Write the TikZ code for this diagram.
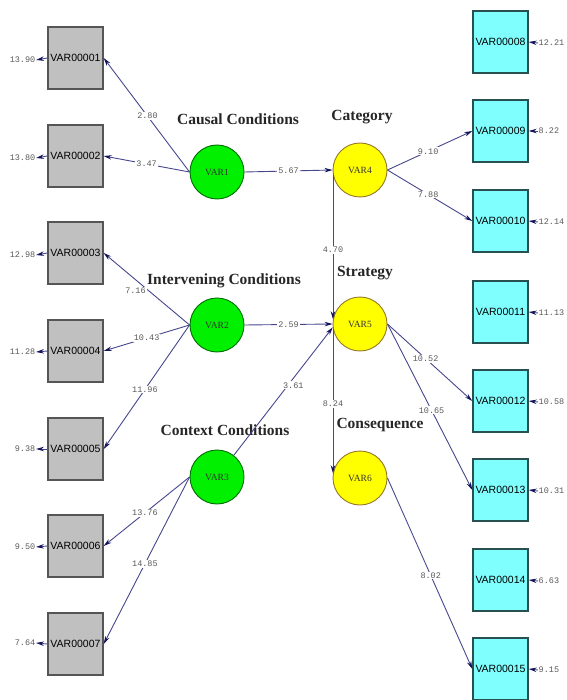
\documentclass[tikz,border=0pt]{standalone}
\usepackage{fontspec}
\setmainfont{Liberation Serif}
\setsansfont{Liberation Sans}
\setmonofont{Liberation Mono}
\usetikzlibrary{arrows.meta}
\definecolor{linec}{RGB}{70,70,140}
\definecolor{headc}{RGB}{20,20,90}
\definecolor{grayfill}{RGB}{192,192,192}
\definecolor{grayline}{RGB}{85,85,85}
\definecolor{cyanfill}{RGB}{128,255,255}
\definecolor{cyanline}{RGB}{40,80,80}
\definecolor{greenfill}{RGB}{0,240,0}
\definecolor{greenline}{RGB}{0,110,0}
\definecolor{yellowfill}{RGB}{255,255,0}
\definecolor{yellowline}{RGB}{150,120,40}
\definecolor{numc}{RGB}{90,90,90}
\tikzset{
  obsl/.style={draw=grayline, line width=1.4pt, fill=grayfill, minimum width=55pt, minimum height=62pt, inner sep=0pt, font=\sffamily\fontsize{10.5}{10.5}\selectfont},
  obsr/.style={obsl, draw=cyanline, fill=cyanfill},
  latg/.style={circle, draw=greenline, line width=0.9pt, fill=greenfill, minimum size=54pt, inner sep=0pt, font=\fontsize{9.5}{9.5}\selectfont, text=black!80},
  laty/.style={latg, draw=yellowline, fill=yellowfill},
  ttl/.style={font=\bfseries\fontsize{15.5}{15.5}\selectfont, text=black!85},
  conn/.style={draw=linec, line width=0.9pt, -{Stealth[length=8pt,width=4.5pt,color=headc]}},
  lbl/.style={font=\ttfamily\fontsize{8.5}{8.5}\selectfont, text=numc, fill=white, inner sep=1pt},
  errn/.style={font=\ttfamily\fontsize{8.5}{8.5}\selectfont, text=numc, inner sep=0.5pt}
}
\begin{document}
\begin{tikzpicture}[x=1pt,y=-1pt]
\useasboundingbox (0,0) rectangle (566,700);
% left observed
\node[obsl] (B1) at (75.5,58) {VAR00001};
\node[obsl] (B2) at (75.5,156) {VAR00002};
\node[obsl] (B3) at (75.5,253) {VAR00003};
\node[obsl] (B4) at (75.5,351) {VAR00004};
\node[obsl] (B5) at (75.5,449) {VAR00005};
\node[obsl] (B6) at (75.5,546) {VAR00006};
\node[obsl] (B7) at (75.5,644) {VAR00007};
% right observed
\node[obsr] (B8) at (500.5,42) {VAR00008};
\node[obsr] (B9) at (500.5,131) {VAR00009};
\node[obsr] (B10) at (500.5,221) {VAR00010};
\node[obsr] (B11) at (500.5,312) {VAR00011};
\node[obsr] (B12) at (500.5,401) {VAR00012};
\node[obsr] (B13) at (500.5,490) {VAR00013};
\node[obsr] (B14) at (500.5,580) {VAR00014};
\node[obsr] (B15) at (500.5,669) {VAR00015};
% latent
\node[latg] (V1) at (217,172) {VAR1};
\node[latg] (V2) at (217,325) {VAR2};
\node[latg] (V3) at (217,477) {VAR3};
\node[laty] (V4) at (360,170) {VAR4};
\node[laty] (V5) at (360,324) {VAR5};
\node[laty] (V6) at (360,478) {VAR6};
% titles
\node[ttl] (T1) at (238,119) {Causal Conditions};
\node[ttl] (T4) at (362,117) {Category};
\node[ttl] (T2) at (224,281) {Intervening Conditions};
\node[ttl] (T5) at (365,273) {Strategy};
\node[ttl] (T3) at (225,430) {Context Conditions};
\node[ttl] (T6) at (380,425) {Consequence};
% error terms left
\node[errn, anchor=east] (E1) at (36,60) {13.90};
\node[errn, anchor=east] (E2) at (36,158) {13.80};
\node[errn, anchor=east] (E3) at (36,255) {12.98};
\node[errn, anchor=east] (E4) at (36,352) {11.28};
\node[errn, anchor=east] (E5) at (36,449) {9.38};
\node[errn, anchor=east] (E6) at (36,547) {9.50};
\node[errn, anchor=east] (E7) at (36,643) {7.64};
\foreach \i in {1,...,7} {\draw[conn] (B\i.west) -- (E\i.east);}
% error terms right
\node[errn, anchor=west] (E8) at (538,43) {12.21};
\node[errn, anchor=west] (E9) at (538,131) {8.22};
\node[errn, anchor=west] (E10) at (538,222) {12.14};
\node[errn, anchor=west] (E11) at (538,313) {11.13};
\node[errn, anchor=west] (E12) at (538,402) {10.58};
\node[errn, anchor=west] (E13) at (538,491) {10.31};
\node[errn, anchor=west] (E14) at (538,581) {6.63};
\node[errn, anchor=west] (E15) at (538,670) {9.15};
\foreach \i in {8,...,15} {\draw[conn] (E\i.west) -- (B\i.east);}
% loadings
\draw[conn] (V1.west) -- node[lbl, pos=0.49] {2.80} (B1.east);
\draw[conn] (V1.west) -- node[lbl, pos=0.5] {3.47} (B2.east);
\draw[conn] (V2.west) -- node[lbl, pos=0.63, yshift=-11pt] {7.16} (B3.east);
\draw[conn] (V2.west) -- node[lbl, pos=0.5] {10.43} (B4.east);
\draw[conn] (V2.west) -- node[lbl, pos=0.52] {11.96} (B5.east);
\draw[conn] (V3.west) -- node[lbl, pos=0.52] {13.76} (B6.east);
\draw[conn] (V3.west) -- node[lbl, pos=0.52] {14.85} (B7.east);
\draw[conn] (V4.east) -- node[lbl, pos=0.48] {9.10} (B9.west);
\draw[conn] (V4.east) -- node[lbl, pos=0.48] {7.88} (B10.west);
\draw[conn] (V5.east) -- node[lbl, pos=0.45] {10.52} (B12.west);
\draw[conn] (V5.east) -- node[lbl, pos=0.52] {10.65} (B13.west);
\draw[conn] (V6.east) -- node[lbl, pos=0.51] {8.02} (B15.west);
% structural paths
\draw[conn] (V1.east) -- node[lbl] {5.67} (V4.west);
\draw[conn] (V2.east) -- node[lbl] {2.59} (V5.west);
\draw[conn] (V3) -- node[lbl, pos=0.5, xshift=10pt, yshift=6pt] {3.61} (V5.187);
\draw[conn] (V4.190) -- node[lbl, pos=0.52] {4.70} (V5.170);
\draw[conn] (V5.190) -- node[lbl, pos=0.52] {8.24} (V6.170);
\end{tikzpicture}
\end{document}
